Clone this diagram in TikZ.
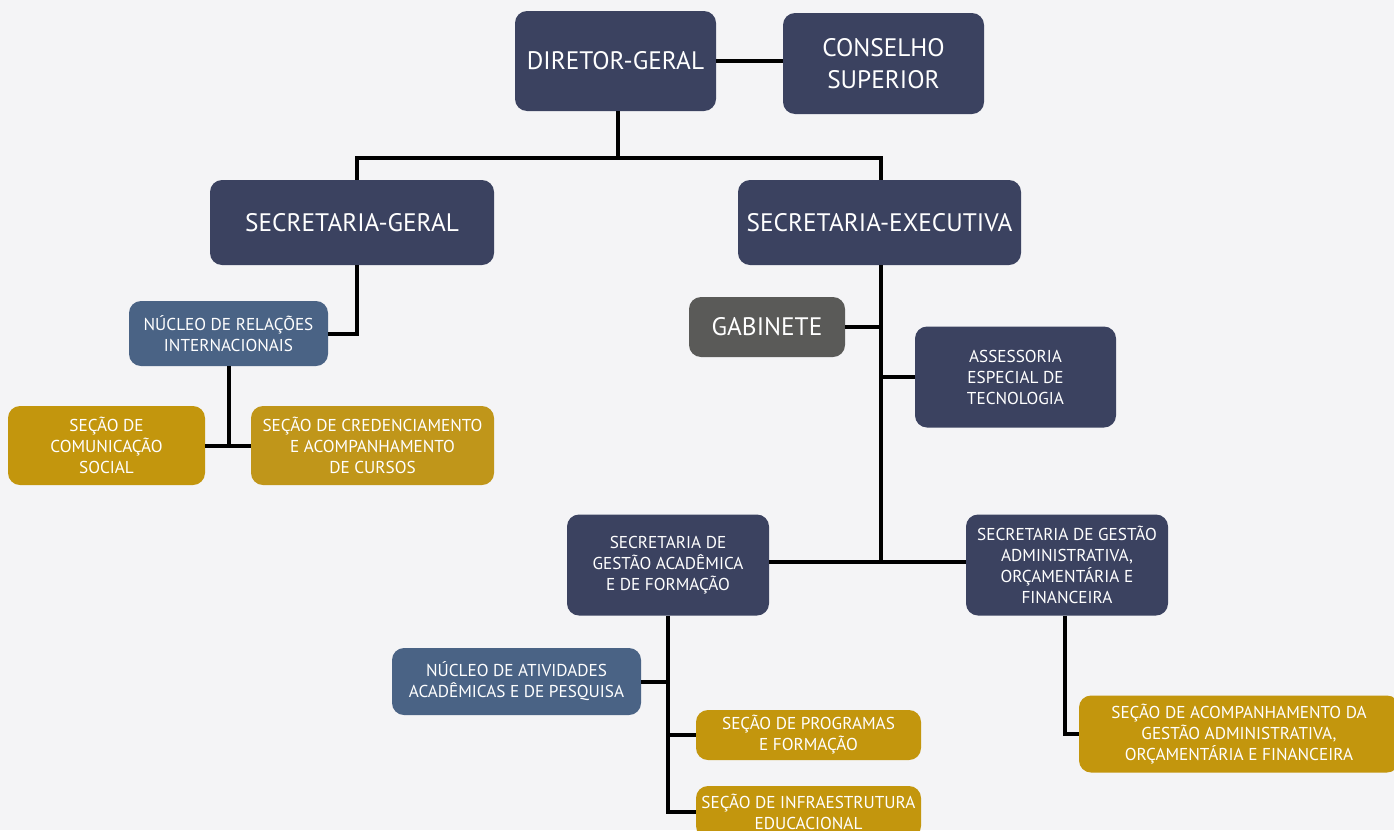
\documentclass[tikz,border=0pt]{standalone}
\usepackage{fontspec}
\setmainfont{PT Sans}
\definecolor{bg}{HTML}{F4F4F6}
\definecolor{navy}{HTML}{3B4260}
\definecolor{steel}{HTML}{4A6385}
\definecolor{gold}{HTML}{C3960D}
\definecolor{goldb}{HTML}{C0961A}
\definecolor{grayb}{HTML}{5A5A58}
\tikzset{
  box/.style={rounded corners=12pt, draw=none, text=white, align=center, inner sep=0pt, anchor=center},
  big/.style={box, font=\fontsize{25.3}{32}\selectfont},
  small/.style={box, font=\fontsize{17.2}{21}\selectfont},
  link/.style={line width=4pt, black}
}
\begin{document}
\begin{tikzpicture}[x=1pt,y=-1pt]
\fill[bg] (0,0) rectangle (1394,830);
\useasboundingbox (0,0) rectangle (1394,830);
% top level
\node[big, fill=navy, minimum width=201pt, minimum height=100pt] (dg) at (615.5,61) {DIRETOR-GERAL};
\node[big, fill=navy, minimum width=201pt, minimum height=101pt] (cs) at (883.5,63.5) {CONSELHO\\SUPERIOR};
\node[big, fill=navy, minimum width=284pt, minimum height=85pt] (sg) at (352,222.5) {SECRETARIA-GERAL};
\node[big, fill=navy, minimum width=283pt, minimum height=85pt] (se) at (879.5,222.5) {SECRETARIA-EXECUTIVA};
% left branch
\node[small, fill=steel, minimum width=199pt, minimum height=65pt] (nri) at (228.5,333.5) {NÚCLEO DE RELAÇÕES\\INTERNACIONAIS};
\node[small, fill=gold, minimum width=197pt, minimum height=79pt] (scs) at (106.5,445.5) {SEÇÃO DE\\COMUNICAÇÃO\\SOCIAL};
\node[small, fill=goldb, minimum width=243pt, minimum height=79pt] (scc) at (372.5,445.5) {SEÇÃO DE CREDENCIAMENTO\\E ACOMPANHAMENTO\\DE CURSOS};
% right branch
\node[big, fill=grayb, minimum width=156pt, minimum height=60pt] (gab) at (767,327) {GABINETE};
\node[small, fill=navy, minimum width=201pt, minimum height=101pt] (aet) at (1015.5,377) {ASSESSORIA\\ESPECIAL DE\\TECNOLOGIA};
\node[small, fill=navy, minimum width=202pt, minimum height=101pt] (sga) at (668,565) {SECRETARIA DE\\GESTÃO ACADÊMICA\\E DE FORMAÇÃO};
\node[small, fill=navy, minimum width=202pt, minimum height=101pt] (sgaof) at (1067,565) {SECRETARIA DE GESTÃO\\ADMINISTRATIVA,\\ORÇAMENTÁRIA E\\FINANCEIRA};
\node[small, fill=steel, minimum width=249pt, minimum height=67pt] (naap) at (516.5,681.5) {NÚCLEO DE ATIVIDADES\\ACADÊMICAS E DE PESQUISA};
\node[small, fill=gold, minimum width=225pt, minimum height=50pt] (sprog) at (808.5,735) {SEÇÃO DE PROGRAMAS\\E FORMAÇÃO};
\node[small, fill=gold, minimum width=225pt, minimum height=52pt] (sinf) at (808.5,812) {SEÇÃO DE INFRAESTRUTURA\\EDUCACIONAL};
\node[small, fill=gold, minimum width=320pt, minimum height=77pt] (sacomp) at (1239,734) {SEÇÃO DE ACOMPANHAMENTO DA\\GESTÃO ADMINISTRATIVA,\\ORÇAMENTÁRIA E FINANCEIRA};
% connectors
\coordinate (j1) at ([xshift=2.5pt]dg.south |- 0,158);
\draw[link] (dg.east) -- (dg.east -| cs.west);
\draw[link] ([xshift=2.5pt]dg.south) -- (j1);
\draw[link] ([xshift=5pt]sg.north) |- (j1) -| ([xshift=1.5pt]se.north);
\draw[link] ([xshift=5pt]sg.south) |- (nri.east);
\draw[link] (nri.south) -- (nri.south |- scs.east);
\draw[link] (scs.east) -- (scc.west);
\coordinate (sev) at ([xshift=1.5pt]se.south |- 0,562);
\draw[link] ([xshift=1.5pt]se.south) -- (sev);
\draw[link] (gab.east) -- (gab.east -| sev);
\draw[link] (aet.west) -- (aet.west -| sev);
\draw[link] ([yshift=3pt]sga.east) -- ([yshift=3pt]sgaof.west);
\draw[link] (sga.south) -- (sga.south |- sinf.west) -- (sinf.west);
\draw[link] (naap.east) -- (naap.east -| sga.south);
\draw[link] (sprog.west) -- (sprog.west -| sga.south);
\draw[link] ([xshift=-2pt]sgaof.south) |- (sacomp.west);
\end{tikzpicture}
\end{document}
